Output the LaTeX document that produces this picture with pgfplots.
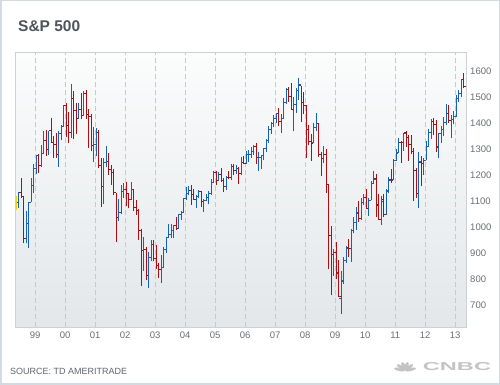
\documentclass[border=0pt]{standalone}
\usepackage{fontspec}
\setmainfont{Liberation Sans}
\usepackage{pgfplots}
\usepackage{pgfplotstable}
\pgfplotsset{compat=1.18}
\definecolor{upblue}{HTML}{1660B8}
\definecolor{dnred}{HTML}{B00D12}
\definecolor{framegray}{HTML}{CDD1D5}
\definecolor{gridgray}{HTML}{C6CACF}
\definecolor{bgtop}{HTML}{FBFCFC}
\definecolor{bgbot}{HTML}{E3E7EA}
\definecolor{ticklab}{HTML}{6A6F76}
\definecolor{titlegray}{HTML}{4F545C}
\definecolor{srcgray}{HTML}{60656C}
\definecolor{bordercol}{HTML}{D3DAE1}
\definecolor{logogray}{HTML}{C4C4C4}
\definecolor{yellowmk}{HTML}{F2D400}

\pgfdeclareplotmark{openT}{\pgfpathmoveto{\pgfqpoint{-\pgfplotmarksize}{0pt}}\pgfpathlineto{\pgfqpoint{0pt}{0pt}}\pgfusepathqstroke}
\pgfdeclareplotmark{closeT}{\pgfpathmoveto{\pgfqpoint{0pt}{0pt}}\pgfpathlineto{\pgfqpoint{\pgfplotmarksize}{0pt}}\pgfusepathqstroke}

% t = months since Jan 1999; o h l c
\pgfplotstableread{
t o h l c
-7 1098.84 1138.49 1074.67 1133.84
-4 957.28 1066.11 939.71 1017.01
-3 1017.01 1100.56 923.32 1098.67
-2 1098.67 1192.97 1098.67 1163.63
-1 1163.63 1244.93 1132.88 1229.23
0 1229.23 1280.37 1205.46 1279.64
2 1238.33 1316.55 1234.67 1286.37
3 1286.37 1371.56 1282.56 1335.18
5 1301.84 1372.93 1281.41 1372.71
9 1282.71 1373.17 1233.70 1362.93
10 1362.93 1396.12 1336.13 1388.91
11 1388.91 1473.00 1387.38 1469.25
14 1366.42 1552.87 1346.62 1498.58
17 1420.60 1480.80 1420.60 1454.60
19 1430.83 1525.21 1430.83 1517.68
23 1314.95 1389.06 1254.07 1320.28
24 1320.28 1383.37 1274.62 1366.01
27 1160.33 1269.30 1091.99 1249.46
28 1249.46 1315.93 1232.00 1255.82
33 1040.94 1110.61 1026.76 1059.78
34 1059.78 1163.38 1054.31 1139.45
35 1139.45 1173.62 1114.51 1148.08
38 1106.73 1173.94 1106.73 1147.39
43 911.62 965.00 833.44 916.07
45 815.28 907.44 768.63 885.76
46 885.76 951.57 872.66 936.31
50 841.15 895.90 788.90 848.18
51 848.18 924.24 847.85 916.92
52 916.92 965.38 902.83 963.59
53 963.59 1015.33 963.59 974.50
54 974.50 1015.41 962.10 990.31
55 990.31 1011.01 960.84 1008.01
57 995.97 1053.79 995.97 1050.71
58 1050.71 1063.65 1031.20 1058.20
59 1058.20 1112.56 1058.20 1111.92
60 1111.92 1155.38 1105.08 1131.13
61 1131.13 1158.98 1124.44 1144.94
64 1107.30 1127.74 1076.32 1120.68
65 1120.68 1146.34 1113.32 1140.84
67 1101.72 1109.68 1060.72 1104.24
68 1104.24 1131.54 1101.29 1114.58
69 1114.58 1142.05 1090.19 1130.20
70 1130.20 1188.46 1127.60 1173.82
71 1173.82 1217.33 1173.76 1211.92
73 1181.27 1212.44 1180.95 1203.60
76 1156.85 1199.56 1146.18 1191.50
78 1191.33 1245.15 1183.55 1234.18
80 1220.33 1243.13 1205.35 1228.81
82 1207.01 1270.64 1201.07 1249.48
84 1248.29 1294.90 1245.74 1280.08
85 1280.08 1297.57 1253.61 1280.66
86 1280.66 1310.88 1268.42 1294.83
87 1294.83 1318.16 1280.74 1310.61
89 1270.09 1290.68 1219.29 1270.20
90 1270.20 1280.42 1224.54 1276.66
91 1276.66 1306.74 1261.30 1303.82
92 1303.82 1340.28 1290.93 1335.85
93 1335.85 1389.45 1327.10 1377.94
94 1377.94 1407.89 1360.98 1400.63
95 1400.63 1431.81 1385.93 1418.30
96 1418.30 1441.61 1403.97 1438.24
98 1406.82 1438.89 1363.98 1420.86
99 1420.86 1498.02 1416.37 1482.37
100 1482.37 1535.56 1476.70 1530.62
103 1455.27 1503.89 1370.60 1473.99
104 1473.99 1538.74 1439.29 1526.75
105 1526.75 1576.09 1489.56 1549.38
111 1326.41 1404.57 1324.35 1385.59
112 1385.59 1440.24 1373.07 1400.38
115 1267.38 1313.15 1248.45 1282.83
119 896.24 918.85 815.69 903.25
122 729.57 832.98 666.79 797.87
123 793.59 888.70 783.32 872.81
124 872.74 930.17 866.10 919.14
126 920.82 996.68 869.32 987.48
127 990.22 1039.47 978.51 1020.62
128 1019.52 1080.15 991.97 1057.08
130 1036.18 1113.69 1029.38 1095.63
131 1098.89 1130.38 1085.89 1115.10
133 1073.89 1112.42 1044.50 1104.49
134 1105.36 1180.69 1105.36 1169.43
135 1171.23 1219.80 1170.69 1186.69
138 1031.10 1120.95 1010.91 1101.60
140 1049.72 1148.90 1049.72 1141.20
141 1143.49 1196.14 1131.87 1183.26
143 1186.60 1262.60 1186.60 1257.64
144 1257.62 1302.67 1257.62 1286.12
145 1289.14 1344.07 1289.14 1327.22
147 1329.48 1364.56 1294.70 1363.61
153 1131.21 1292.66 1074.77 1253.30
155 1246.91 1269.37 1202.37 1257.60
156 1258.86 1333.47 1258.86 1312.41
157 1312.45 1378.04 1312.45 1365.68
158 1365.90 1419.15 1340.03 1408.47
161 1310.61 1363.46 1266.74 1362.16
162 1362.33 1391.74 1325.41 1379.32
163 1379.32 1426.68 1354.65 1406.58
164 1406.54 1474.51 1396.56 1440.67
166 1412.20 1434.27 1343.35 1416.18
167 1416.18 1448.00 1398.11 1426.19
168 1426.19 1509.94 1426.19 1498.11
169 1498.11 1530.94 1485.01 1514.68
170 1514.68 1570.28 1501.48 1569.19
}\upT

\pgfplotstableread{
t o h l c
-6 1133.84 1190.58 1114.30 1120.67
-5 1120.67 1121.64 939.98 957.28
1 1279.64 1283.75 1211.89 1238.33
4 1335.18 1375.98 1277.31 1301.84
6 1372.71 1420.33 1328.72 1328.72
7 1328.72 1351.72 1268.37 1320.41
8 1320.41 1362.50 1268.14 1282.71
12 1469.25 1478.00 1350.14 1394.46
13 1394.46 1444.55 1325.07 1366.42
15 1498.58 1527.19 1339.40 1452.43
16 1452.43 1481.51 1361.09 1420.60
18 1454.60 1517.32 1416.54 1430.83
20 1517.68 1530.09 1419.44 1436.51
21 1436.52 1454.82 1305.79 1429.40
22 1429.40 1438.46 1294.90 1314.95
25 1366.01 1376.38 1228.33 1239.94
26 1239.94 1267.42 1081.19 1160.33
29 1255.82 1286.62 1203.03 1224.42
30 1224.42 1239.78 1165.54 1211.23
31 1211.23 1226.27 1124.87 1133.58
32 1133.58 1133.58 944.75 1040.94
36 1148.08 1176.55 1081.66 1130.20
37 1130.20 1130.20 1074.36 1106.73
39 1147.39 1147.84 1063.46 1076.92
40 1076.92 1106.59 1048.96 1067.14
41 1067.14 1070.74 952.92 989.82
42 989.82 994.46 775.68 911.62
44 916.07 924.02 800.20 815.28
47 936.31 954.28 871.44 879.82
48 879.82 935.05 840.34 855.70
49 855.70 864.64 806.29 841.15
56 1008.01 1040.29 990.36 995.97
62 1144.94 1163.23 1087.16 1126.21
63 1126.21 1150.57 1106.62 1107.30
66 1140.84 1140.84 1078.78 1101.72
72 1211.92 1217.80 1163.75 1181.27
74 1203.60 1229.11 1176.92 1180.59
75 1180.59 1191.88 1136.15 1156.85
77 1191.50 1219.59 1188.30 1191.33
79 1234.18 1245.86 1201.07 1220.33
81 1228.81 1233.34 1168.20 1207.01
83 1249.48 1275.80 1246.59 1248.29
88 1310.61 1326.70 1245.34 1270.09
97 1438.24 1461.57 1389.42 1406.82
101 1530.62 1540.56 1484.18 1503.35
102 1503.35 1555.90 1454.25 1455.27
106 1545.79 1545.79 1406.10 1481.14
107 1481.14 1523.57 1435.65 1468.36
108 1468.36 1471.77 1270.05 1378.55
109 1378.55 1396.02 1316.75 1330.63
110 1330.63 1359.68 1256.98 1322.70
113 1400.38 1404.05 1272.00 1280.00
114 1280.00 1292.17 1200.44 1267.38
116 1282.83 1303.04 1133.50 1166.36
117 1166.36 1167.03 839.80 968.75
118 968.75 1007.51 741.02 896.24
120 902.99 943.85 804.30 825.88
121 825.44 875.01 734.52 735.09
125 923.26 956.23 888.86 919.32
129 1054.91 1101.36 1020.18 1036.19
132 1116.56 1150.45 1071.59 1073.87
136 1188.58 1205.13 1040.78 1089.41
137 1087.30 1131.23 1028.33 1030.71
139 1107.53 1129.24 1039.70 1049.33
142 1185.71 1227.08 1173.00 1180.55
146 1328.64 1332.28 1249.05 1325.83
148 1365.21 1370.58 1311.80 1345.20
149 1345.20 1356.48 1258.07 1320.64
150 1320.64 1356.48 1282.86 1292.28
151 1292.59 1307.38 1101.54 1218.89
152 1219.12 1229.29 1114.22 1131.42
154 1251.00 1277.55 1158.66 1246.96
159 1408.47 1422.38 1357.38 1397.91
160 1397.86 1415.32 1291.98 1310.33
165 1440.90 1470.96 1403.28 1412.16
171 1569.18 1593.37 1536.03 1541.61
}\dnT

\begin{document}
\begin{tikzpicture}
\useasboundingbox (0,0) rectangle (500pt,385pt);
\fill[white] (0,0) rectangle (500pt,385pt);
\draw[bordercol, line width=1.5pt] (0.75pt,0.75pt) rectangle (499.25pt,384.25pt);
\node[anchor=base west, font=\fontsize{15.5}{16}\selectfont\bfseries, text=titlegray, inner sep=0pt] at (18pt,353.3pt) {S\&P 500};
\node[anchor=base west, font=\fontsize{9}{10}\selectfont, text=srcgray, inner sep=0pt] at (10pt,10pt) {SOURCE: TD AMERITRADE};
% logo
\begin{scope}[yscale=0.8]
\foreach \a in {18,47,76,104,133,162}
  \fill[logogray, rotate around={\a:(405pt,17.5pt)}] (411pt,17.5pt) ellipse (5.5pt and 2pt);
\end{scope}
\node[font=\fontsize{11.5}{12}\selectfont\bfseries, text=logogray, xscale=2.05, transform shape, inner sep=0pt] at (457pt,18.3pt) {CNBC};

\begin{axis}[
  scale only axis, width=450.7pt, height=274.3pt,
  at={(16pt,57.7pt)}, anchor=south west,
  xmin=-8.1, xmax=172.2, ymin=617, ymax=1672,
  axis line style={draw=framegray, line width=1pt},
  axis background/.style={top color=bgtop, bottom color=bgbot},
  xtick={-0.4,11.6,23.6,35.6,47.6,59.6,71.6,83.6,95.6,107.6,119.6,131.6,143.6,155.6,167.6},
  xticklabels={99,00,01,02,03,04,05,06,07,08,09,10,11,12,13},
  xmajorgrids,
  major grid style={draw=gridgray, line width=0.8pt, dash pattern=on 5pt off 3pt},
  ytick={700,800,900,1000,1100,1200,1300,1400,1500,1600},
  yticklabel pos=right,
  major tick length=0pt,
  tick style={draw=none},
  ticklabel style={font=\fontsize{9.5}{10}\selectfont, text=ticklab},
  /pgf/number format/assume math mode=true,
  /pgf/number format/1000 sep={},
  xticklabel style={yshift=-1pt},
]
\addplot[draw=none, mark=none, forget plot,
  error bars/.cd, y dir=plus, y explicit, error mark=none,
  error bar style={draw=upblue, line width=1pt}]
  table[x=t, y=l, y error expr=\thisrow{h}-\thisrow{l}] {\upT};
\addplot[upblue, only marks, mark=openT, mark size=1.8pt, mark options={line width=1pt, solid}] table[x=t, y=o] {\upT};
\addplot[upblue, only marks, mark=closeT, mark size=1.8pt, mark options={line width=1pt, solid}] table[x=t, y=c] {\upT};

\addplot[draw=none, mark=none, forget plot,
  error bars/.cd, y dir=plus, y explicit, error mark=none,
  error bar style={draw=dnred, line width=1pt}]
  table[x=t, y=l, y error expr=\thisrow{h}-\thisrow{l}] {\dnT};
\addplot[dnred, only marks, mark=openT, mark size=1.8pt, mark options={line width=1pt, solid}] table[x=t, y=o] {\dnT};
\addplot[dnred, only marks, mark=closeT, mark size=1.8pt, mark options={line width=1pt, solid}] table[x=t, y=c] {\dnT};

\addplot[yellowmk, line width=2pt] coordinates {(-7.9,1068) (-7.9,1122)};
\end{axis}
\end{tikzpicture}
\end{document}
